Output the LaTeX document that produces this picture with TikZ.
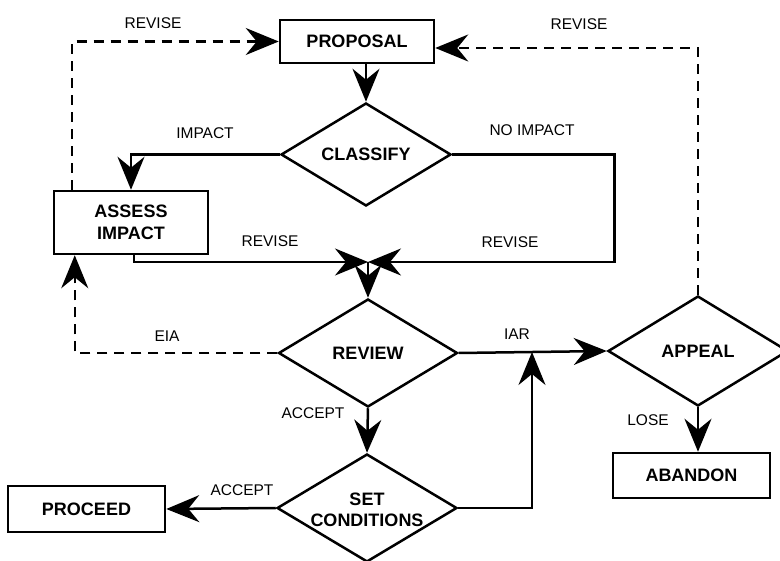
\documentclass[tikz,border=0pt]{standalone}
\usepackage{fontspec}
\setmainfont{Liberation Sans}
\usetikzlibrary{shapes.geometric,arrows.meta}
\begin{document}
\begin{tikzpicture}[x=1pt,y=-1pt, line width=2.5pt,
  box/.style={draw, rectangle, inner sep=0pt, font=\bfseries\fontsize{18}{21.5}\selectfont, align=center},
  dia/.style={draw, diamond, inner sep=0pt},
  dtext/.style={font=\bfseries\fontsize{18}{21.5}\selectfont, align=center, inner sep=0pt},
  lbl/.style={font=\fontsize{15.5}{18}\selectfont, inner sep=0pt},
  arr/.style={-{Stealth[length=33pt,width=27pt,inset=11pt]}},
  dsh/.style={dash pattern=on 10pt off 7pt}]
\useasboundingbox (0,0) rectangle (780,561);
% boxes
\node[box, minimum width=154pt, minimum height=43pt] (proposal) at (357,41.5) {PROPOSAL};
\node[box, minimum width=154pt, minimum height=63pt] (assess) at (131,222.5) {ASSESS\\IMPACT};
\node[box, minimum width=157pt, minimum height=46pt] (proceed) at (86.5,509) {PROCEED};
\node[box, minimum width=157pt, minimum height=45pt] (abandon) at (691.5,475.5) {ABANDON};
% diamonds
\node[dia, minimum width=170pt, minimum height=103pt] (classify) at (366,154.5) {};
\node[dtext] (classifyT) at (classify) {CLASSIFY};
\node[dia, minimum width=179pt, minimum height=108pt] (review) at (368,353) {};
\node[dtext] (reviewT) at (review) {REVIEW};
\node[dia, minimum width=180pt, minimum height=110pt] (appeal) at (698,351) {};
\node[dtext] (appealT) at (appeal) {APPEAL};
\node[dia, minimum width=180pt, minimum height=108pt] (setc) at (367,508) {};
\node[dtext] (setcT) at ([yshift=-2pt]setc) {SET\\CONDITIONS};
% helper coordinates
\coordinate (j) at (368,262);
\coordinate (iar) at (532,352);
% connectors
\draw[arr] (proposal.south -| classify.north) -- (classify.north);
\draw[arr] (classify.west) -| (assess.north);
\draw[arr] (classify.east) -- ++(162,0) |- (j);
\draw[arr] ([xshift=3pt]assess.south) |- (j);
\draw[arr] (j) -- (review.north);
\draw[arr,dsh] (review.west) -| ([xshift=22pt]assess.south west);
\draw[arr,dsh] ([xshift=19pt]assess.north west) |- (proposal.west);
\draw[arr,dsh] (appeal.north) |- ([yshift=-6.5pt]proposal.east);
\draw[arr] (review.east) -- (appeal.west);
\draw[arr] (setc.east) -| (iar);
\draw[arr] (review.south) -- (setc.north);
\draw[arr] (setc.west) -- (proceed.east);
\draw[arr] (appeal.south) -- (appeal.south |- abandon.north);
% labels
\node[lbl] (l1) at (153,23) {REVISE};
\node[lbl] (l2) at (579,24) {REVISE};
\node[lbl] (l3) at (205,133) {IMPACT};
\node[lbl] (l4) at (532,130) {NO IMPACT};
\node[lbl] (l5) at (270,241) {REVISE};
\node[lbl] (l6) at (510,242) {REVISE};
\node[lbl] (l7) at (167,336) {EIA};
\node[lbl] (l8) at (517,334) {IAR};
\node[lbl] (l9) at (313,413) {ACCEPT};
\node[lbl] (l10) at (242,490) {ACCEPT};
\node[lbl] (l11) at (648,420) {LOSE};
\end{tikzpicture}
\end{document}
